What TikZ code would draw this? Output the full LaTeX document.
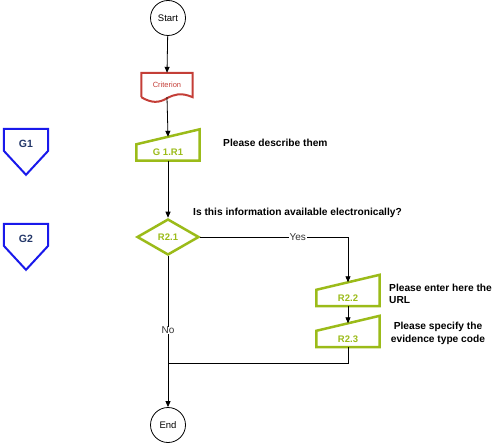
\documentclass[tikz,border=0pt]{standalone}
\usepackage{fontspec}
\setmainfont{Liberation Sans}
\usetikzlibrary{arrows.meta,shapes.geometric,calc}
\definecolor{reqgreen}{RGB}{155,187,25}
\definecolor{critred}{RGB}{196,62,55}
\definecolor{pentblue}{RGB}{25,25,235}
\definecolor{pentnavy}{RGB}{35,55,105}
% outlines drawn from the anchors of a named node
\newcommand{\inshape}[1]{\draw[reqgreen,line width=2.5pt] (#1.south west) -- (#1.south east) -- ($(#1.north east)+(0,-15)$) -- (#1.north west) -- cycle;}
\newcommand{\pentshape}[1]{\draw[pentblue,line width=2pt] (#1.north west) -- (#1.north east) -- ($(#1.north east)+(0,22)$) -- ($(#1.north)+(0,46)$) -- ($(#1.north west)+(0,22)$) -- cycle;}
\newcommand{\docshape}[1]{\draw[critred,line width=2pt] (#1.south west) -- (#1.north west) -- (#1.north east) -- (#1.south east) .. controls ($(#1.south east)+(-12,-5)$) and ($(#1.south)+(8,-3)$) .. ($(#1.south)+(0,1)$) .. controls ($(#1.south)+(-8,6)$) and ($(#1.south west)+(10,6)$) .. (#1.south west);}
\begin{document}
\begin{tikzpicture}[x=1pt,y=-1pt,
    every node/.style={inner sep=0pt},
    term/.style={circle,draw,line width=0.8pt,minimum size=35pt,font=\fontsize{9.5}{11}\selectfont},
    docbox/.style={minimum width=51pt,minimum height=24pt,text=critred,font=\fontsize{7.5}{9}\selectfont},
    inbox/.style={minimum width=63pt,minimum height=16pt,text=reqgreen,font=\bfseries\fontsize{9.5}{11}\selectfont},
    decide/.style={diamond,draw=reqgreen,line width=2.5pt,minimum width=62pt,minimum height=36pt,text=reqgreen,font=\bfseries\fontsize{9.5}{11}\selectfont},
    offpage/.style={minimum width=44pt,minimum height=30pt,text=pentnavy,font=\bfseries\fontsize{10.5}{12}\selectfont},
    quest/.style={font=\bfseries\fontsize{10.2}{12.5}\selectfont},
    branch/.style={fill=white,inner xsep=1pt,text=black!80,font=\fontsize{10}{12}\selectfont},
    flow/.style={line width=0.8pt,-{Triangle[length=6pt,width=5pt]}}]
    \useasboundingbox (0,0) rectangle (497,443);
    \node [term] (start) at (168,18) {Start};
    \node [docbox] (crit) at (167,85) {Criterion};
    \docshape{crit}
    \node [inbox] (r1) at (168,152.5) {G 1.R1};
    \inshape{r1}
    \node [quest,anchor=west] (q1) at (223,143) {Please describe them};
    \node [offpage] (g1) at (26,144) {G1};
    \pentshape{g1}
    \node [offpage] (g2) at (26,239) {G2};
    \pentshape{g2}
    \node [decide] (r21) at (168,237) {R2.1};
    \node [quest,anchor=west] (q2) at (193,213) {Is this information available electronically?};
    \node [inbox] (r22) at (348,298) {R2.2};
    \inshape{r22}
    \node [quest,anchor=west,align=left] (q3) at (389,294) {Please enter here the\\URL};
    \node [inbox] (r23) at (348,339) {R2.3};
    \inshape{r23}
    \node [quest,align=center] (q4) at (438,333.5) {Please specify the\\evidence type code};
    \node [term] (end) at (168,425) {End};
    \coordinate (join) at (168,363);
    \draw [flow] (start) -- (crit.north);
    \draw [flow] (crit.south) -- ($(r1.north)+(0,-7.5)$);
    \draw [flow] (r1.south) -- (r21.north);
    \draw [flow] (r21.east) -| node [branch,pos=0.33] {Yes} ($(r22.north)+(0,-7.5)$);
    \draw [flow] (r22.south) -- ($(r23.north)+(0,-7.5)$);
    \draw [line width=0.8pt] (r23.south) |- (join);
    \draw [flow] (r21.south) -- node [branch,pos=0.49] {No} (end.north);
\end{tikzpicture}
\end{document}
